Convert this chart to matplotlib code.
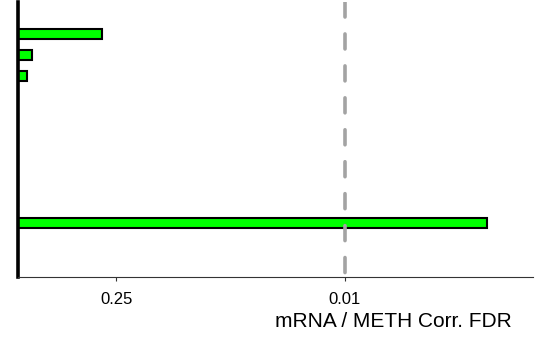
import numpy as np
import matplotlib
matplotlib.use("Agg")
import matplotlib.pyplot as plt

plt.rcParams['font.family'] = ['Liberation Sans', 'DejaVu Sans']
plt.rcParams['lines.scale_dashes'] = False

# Data (FDR of mRNA / METH correlation, one per row, top to bottom)
rows = list(range(10))
fdr = [0.307, 0.816, 0.885, 1.0, 1.0, 1.0, 1.0, 1.0, 1.0, 0.00135]
tick_fdr = [0.25, 0.01]
tick_labels = ['0.25', '0.01']
threshold_fdr = 0.01
xlabel = 'mRNA / METH Corr. FDR'

vals = -np.log10(np.array(fdr))

fig = plt.figure(figsize=(5.6, 3.37), dpi=100)
ax = fig.add_axes([18/560, 1 - 277/337, (533-18)/560, (277-2)/337])

ax.barh(rows, vals, height=0.5, color='#00FF00', edgecolor='black', linewidth=1.5, zorder=2)

ax.set_xlim(0, 3.15)
ax.set_ylim(11.57, -1.52)

ax.plot([-np.log10(threshold_fdr)] * 2, [1, 0], transform=ax.get_xaxis_transform(),
        color='#A3A3A3', linewidth=2.6, linestyle=(0, (10.8, 12.2)), zorder=3,
        solid_capstyle='butt', dash_capstyle='round')

ax.set_xticks(-np.log10(np.array(tick_fdr)))
ax.set_xticklabels(tick_labels, fontsize=12)
ax.set_yticks([])
ax.tick_params(axis='x', length=3, width=0.8, color='#333333', pad=7.5)

for s in ['top', 'right']:
    ax.spines[s].set_visible(False)
ax.spines['left'].set_linewidth(2.6)
ax.spines['left'].set_color('black')
ax.spines['bottom'].set_linewidth(0.8)
ax.spines['bottom'].set_color('#333333')

fig.text(393.5/560, 1 - 321.5/337, xlabel, ha='center', va='center', fontsize=15)

fig.savefig('out.png', dpi=100)
